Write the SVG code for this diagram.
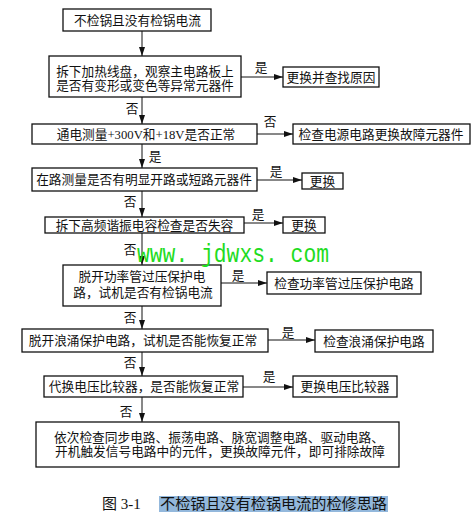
<svg xmlns="http://www.w3.org/2000/svg" width="475" height="517" viewBox="0 0 475 517">
<defs>
<style>
text{font-family:"Liberation Serif","Noto Sans CJK SC",serif;font-size:12.7px;fill:#111;text-anchor:middle}
.b{fill:#fff;stroke:#111;stroke-width:1.3}
.c{stroke:#111;stroke-width:1;fill:none;marker-end:url(#ah)}
.wm{font-family:"Liberation Mono","DejaVu Sans Mono",monospace;font-size:26px;fill:#1fdc1f;text-anchor:start}
.cap{font-size:15px;text-anchor:start}
</style>
<marker id="ah" markerUnits="userSpaceOnUse" markerWidth="9" markerHeight="6" refX="9" refY="3" orient="auto">
<path d="M0,0 L9,3 L0,6 z" fill="#111"/>
</marker>
</defs>
<rect width="475" height="517" fill="#fff"/>
<g id="connectors">
<line class="c" x1="142" y1="31" x2="142" y2="56"/>
<line class="c" x1="241" y1="77" x2="283" y2="77"/>
<line class="c" x1="142" y1="97" x2="142" y2="124"/>
<line class="c" x1="257" y1="134" x2="293" y2="134"/>
<line class="c" x1="142" y1="144" x2="142" y2="168"/>
<line class="c" x1="257" y1="180" x2="302" y2="180"/>
<line class="c" x1="142" y1="191" x2="142" y2="217"/>
<line class="c" x1="244" y1="223" x2="283" y2="223"/>
<line class="c" x1="142" y1="233" x2="142" y2="265"/>
<line class="c" x1="221" y1="283" x2="267" y2="283"/>
<line class="c" x1="142" y1="306" x2="142" y2="329"/>
<line class="c" x1="268" y1="340" x2="315" y2="340"/>
<line class="c" x1="142" y1="352" x2="142" y2="376"/>
<line class="c" x1="243" y1="387" x2="293" y2="387"/>
<line class="c" x1="142" y1="397" x2="142" y2="422"/>
<text x="261" y="72">是</text>
<text x="132" y="113">否</text>
<text x="270" y="126">否</text>
<text x="155" y="161">是</text>
<text x="276" y="176">是</text>
<text x="130" y="206">否</text>
<text x="258" y="219">是</text>
<text x="130" y="254">否</text>
<text x="238" y="279.5">是</text>
<text x="130" y="322">否</text>
<text x="288" y="337">是</text>
<text x="130" y="367">否</text>
<text x="269" y="381">是</text>
<text x="126" y="416">否</text>
</g>
<g id="n1"><rect class="b" x="63" y="9" width="148" height="22"/><text x="137.5" y="25">不检锅且没有检锅电流</text></g>
<g id="n2"><rect class="b" x="49" y="56" width="192" height="41"/><text x="145" y="76">拆下加热线盘，观察主电路板上</text><text x="145" y="90">是否有变形或变色等异常元器件</text></g>
<g id="n3"><rect class="b" x="283" y="67" width="96" height="20"/><text x="331" y="82">更换并查找原因</text></g>
<g id="n4"><rect class="b" x="32" y="124" width="225" height="20"/><text x="146" y="139">通电测量+300V和+18V是否正常</text></g>
<g id="n5"><rect class="b" x="293" y="124" width="177" height="20"/><text x="381" y="139">检查电源电路更换故障元器件</text></g>
<g id="n6"><rect class="b" x="32" y="168" width="225" height="23"/><text x="144" y="184">在路测量是否有明显开路或短路元器件</text></g>
<g id="n7"><rect class="b" x="302" y="173" width="41" height="16"/><text x="322.5" y="186">更换</text></g>
<g id="n8"><rect class="b" x="45" y="217" width="199" height="16"/><text x="144.5" y="230">拆下高频谐振电容检查是否失容</text></g>
<g id="n9"><rect class="b" x="283" y="217" width="42" height="16"/><text x="304" y="230">更换</text></g>
<g id="n10"><rect class="b" x="63" y="265" width="158" height="41"/><text x="142" y="281">脱开功率管过压保护电</text><text x="143" y="297">路，试机是否有检锅电流</text></g>
<g id="n11"><rect class="b" x="267" y="272" width="154" height="22"/><text x="344" y="288">检查功率管过压保护电路</text></g>
<g id="n12"><rect class="b" x="22" y="329" width="246" height="23"/><text x="143" y="345">脱开浪涌保护电路，试机是否能恢复正常</text></g>
<g id="n13"><rect class="b" x="315" y="330" width="118" height="22"/><text x="374" y="346">检查浪涌保护电路</text></g>
<g id="n14"><rect class="b" x="44" y="376" width="199" height="21"/><text x="144" y="391">代换电压比较器，是否能恢复正常</text></g>
<g id="n15"><rect class="b" x="293" y="376" width="104" height="21"/><text x="345" y="391">更换电压比较器</text></g>
<g id="n16"><rect class="b" x="36" y="422" width="363" height="45"/><text x="219" y="442">依次检查同步电路、振荡电路、脉宽调整电路、驱动电路、</text><text x="220" y="456">开机触发信号电路中的元件，更换故障元件，即可排除故障</text></g>
<text class="wm" x="137" y="262" textLength="192" lengthAdjust="spacingAndGlyphs">www. jdwxs. com</text>
<g id="caption">
<rect x="159" y="496" width="229" height="16" fill="#93b8dc"/>
<text class="cap" x="102" y="509">图 3-1</text>
<text class="cap" x="160" y="509" textLength="227" lengthAdjust="spacingAndGlyphs">不检锅且没有检锅电流的检修思路</text>
</g>
</svg>
